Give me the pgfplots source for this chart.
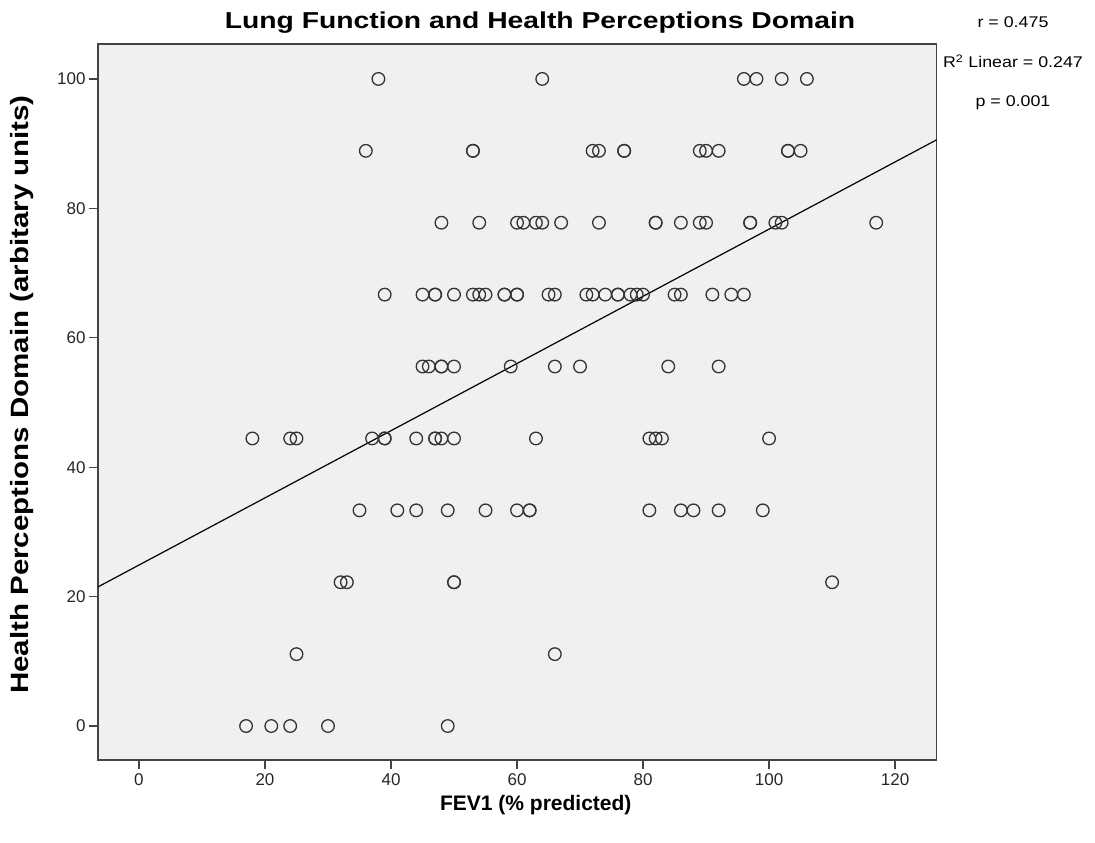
\documentclass[border=0pt]{standalone}
\usepackage{fontspec}
\setmainfont{Liberation Sans}
\usepackage{pgfplots}
\usepackage{pgfplotstable}
\pgfplotsset{compat=1.18}
\definecolor{bgfill}{HTML}{F0F0F0}
\definecolor{axgray}{HTML}{444444}
\definecolor{mkgray}{HTML}{333333}
\pgfplotstableread{
x y
17 0
21 0
24 0
30 0
49 0
25 11.11
66 11.11
32 22.22
33 22.22
50 22.22
50 22.22
110 22.22
35 33.33
41 33.33
44 33.33
49 33.33
55 33.33
60 33.33
62 33.33
62 33.33
81 33.33
86 33.33
88 33.33
92 33.33
99 33.33
18 44.44
24 44.44
25 44.44
37 44.44
39 44.44
39 44.44
44 44.44
47 44.44
47 44.44
48 44.44
50 44.44
63 44.44
81 44.44
82 44.44
83 44.44
100 44.44
45 55.56
46 55.56
48 55.56
48 55.56
50 55.56
59 55.56
66 55.56
70 55.56
84 55.56
92 55.56
39 66.67
45 66.67
47 66.67
47 66.67
50 66.67
53 66.67
54 66.67
55 66.67
58 66.67
58 66.67
60 66.67
60 66.67
65 66.67
66 66.67
71 66.67
72 66.67
74 66.67
76 66.67
76 66.67
78 66.67
79 66.67
80 66.67
85 66.67
86 66.67
91 66.67
94 66.67
96 66.67
48 77.78
54 77.78
60 77.78
61 77.78
63 77.78
64 77.78
67 77.78
73 77.78
82 77.78
82 77.78
86 77.78
89 77.78
90 77.78
97 77.78
97 77.78
101 77.78
102 77.78
117 77.78
36 88.89
53 88.89
53 88.89
72 88.89
73 88.89
77 88.89
77 88.89
89 88.89
90 88.89
92 88.89
103 88.89
103 88.89
105 88.89
38 100
64 100
96 100
98 100
102 100
106 100
}\datatable
\pgfplotstableread{
x y
-6.5 21.5
126.6 90.6
}\fittable
\begin{document}
\begin{tikzpicture}
\path[use as bounding box] (0,0) rectangle (1095pt,843pt);
\begin{axis}[
  at={(98pt,83pt)}, anchor=south west,
  width=838.7pt, height=716pt, scale only axis,
  xmin=-6.5, xmax=126.6, ymin=-5.25, ymax=105.4,
  axis background/.style={fill=bgfill},
  axis line style={axgray, line width=1.5pt},
  xtick={0,20,...,120}, ytick={0,20,...,100},
  tick align=outside, tick pos=left,
  major tick length=9pt,
  tick style={axgray, line width=1.3pt},
  /pgf/number format/assume math mode=true,
  ticklabel style={font=\fontsize{17}{20}\selectfont, text=black!85},
  xticklabel style={yshift=-1pt},
  title={Lung Function and Health Perceptions Domain},
  title style={at={(axis description cs:0.527,1.032)}, anchor=center,
    font=\bfseries\fontsize{23}{27}\selectfont, xscale=1.23, yshift=-8pt},
  xlabel={FEV1 (\% predicted)},
  xlabel style={at={(axis description cs:0.522,-0.063)}, anchor=center,
    font=\bfseries\fontsize{21}{25}\selectfont},
  ylabel={Health Perceptions Domain (arbitary units)},
  ylabel style={at={(axis description cs:-0.0906,0.51)}, anchor=center,
    font=\bfseries\fontsize{25}{30}\selectfont, xscale=1.18},
  clip=true,
]
\addplot[black, line width=1.2pt] table[x=x,y=y] {\fittable};
\addplot[only marks, mark=o, mark size=6.3pt, mark options={mkgray, line width=1.3pt}] table[x=x,y=y] {\datatable};
\end{axis}
\node[font=\fontsize{15.5}{18}\selectfont, xscale=1.15] at (1013pt,821pt) {r = 0.475};
\node[font=\fontsize{15.5}{18}\selectfont, xscale=1.15] at (1013pt,782pt) {R\textsuperscript{2} Linear = 0.247};
\node[font=\fontsize{15.5}{18}\selectfont, xscale=1.15] at (1013pt,740pt) {p = 0.001};
\end{tikzpicture}
\end{document}
